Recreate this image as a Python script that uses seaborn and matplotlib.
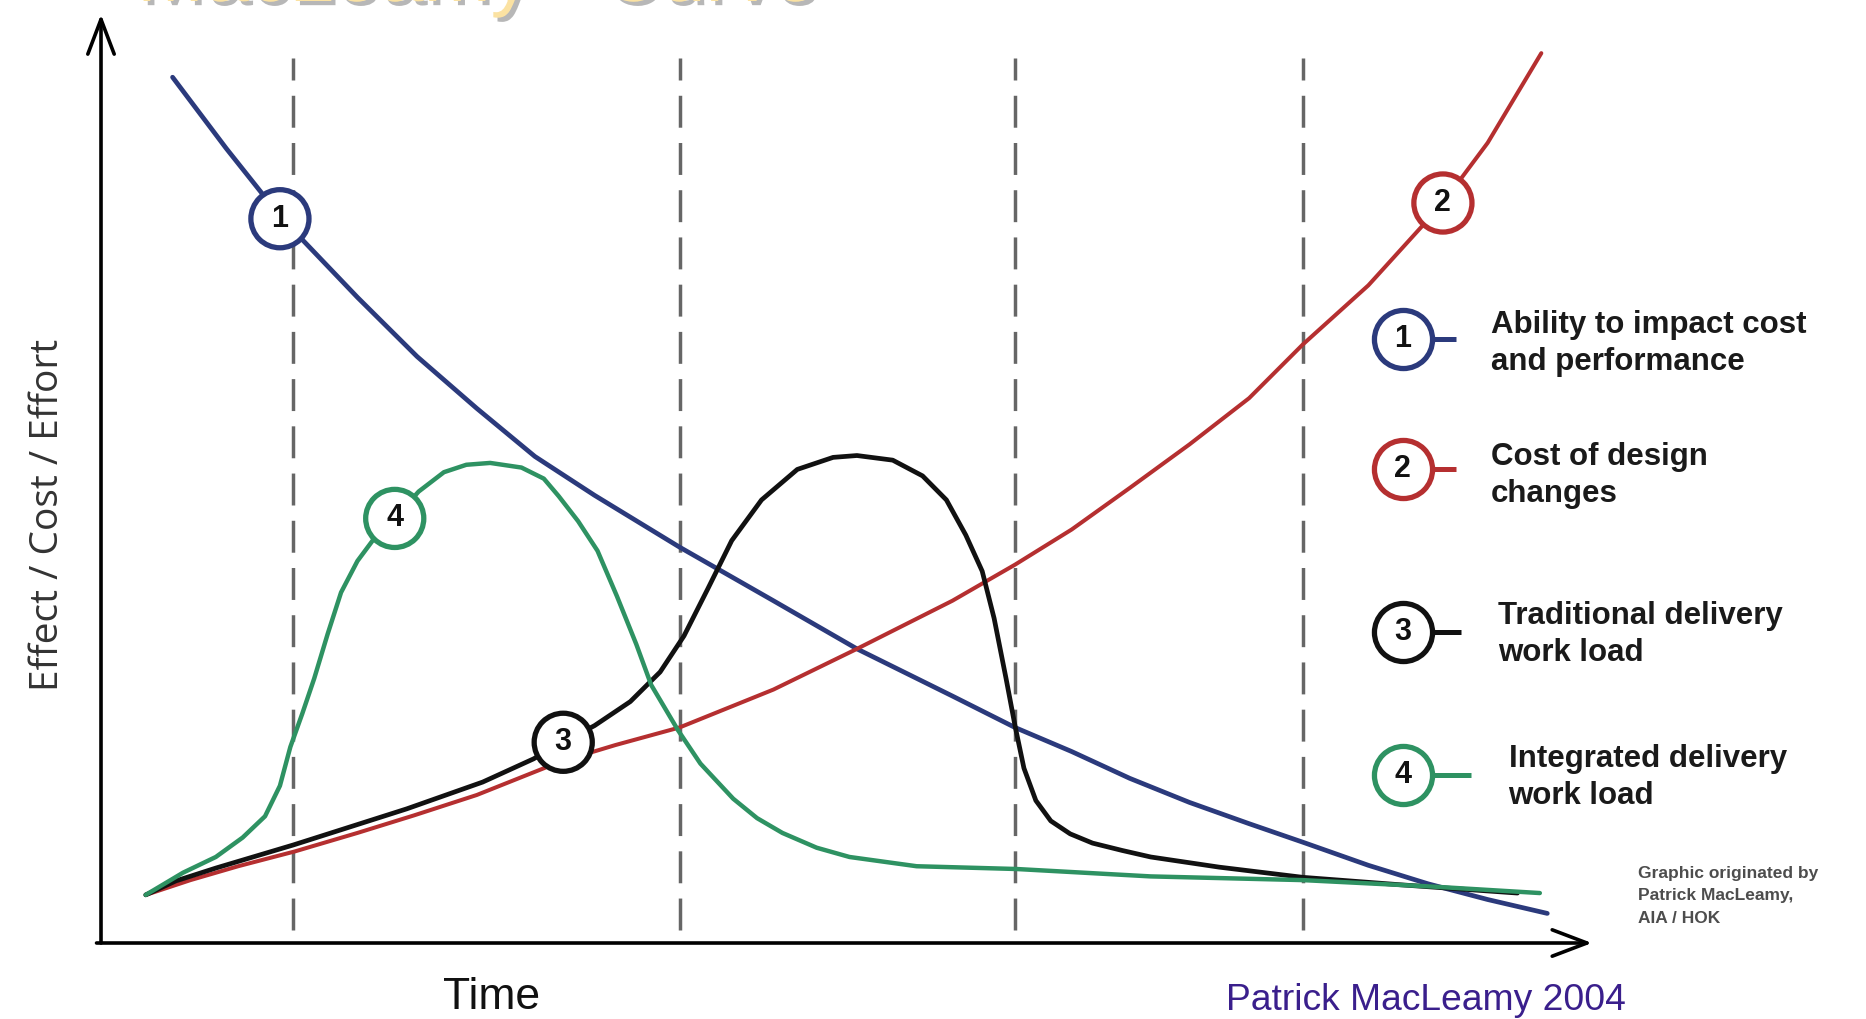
import matplotlib
matplotlib.use("Agg")
import matplotlib.pyplot as plt
import matplotlib.patheffects as pe
import seaborn as sns

sns.set_theme(style="white")
plt.rcParams["font.family"] = ["Liberation Sans", "DejaVu Sans"]

# Curves: time 0-100 (x), effect 0-100 (y)
ability_t = [4.8, 8.4, 12.1, 17.2, 21.2, 25.2, 29.1, 33.1, 38.8, 45.1, 50.7, 57.1,
             61.3, 65.1, 69.0, 73.0, 77.0, 80.6, 85.0, 89.0, 93.0, 97.0]
ability_v = [93.6, 85.9, 78.4, 69.8, 63.4, 57.8, 52.6, 48.4, 42.8, 37.0, 31.8, 26.7,
             23.3, 20.7, 17.8, 15.2, 12.9, 10.9, 8.4, 6.4, 4.7, 3.2]

cost_t = [3.0, 6.0, 9.2, 13.0, 17.2, 21.0, 25.2, 30.8, 34.5, 38.8, 45.1, 50.7, 57.1,
          61.3, 65.1, 69.0, 73.0, 77.0, 80.6, 85.0, 89.9, 93.0, 96.6]
cost_v = [5.2, 6.8, 8.3, 9.9, 11.9, 13.8, 16.0, 19.6, 21.4, 23.3, 27.4, 31.8, 37.0,
          40.9, 44.7, 49.2, 53.9, 58.9, 64.7, 71.1, 79.8, 86.5, 96.2]

trad_t = [3.0, 5.0, 7.7, 12.9, 20.5, 25.6, 29.0, 31.0, 33.1, 35.5, 37.5, 39.1, 40.7,
          42.3, 44.3, 46.7, 49.1, 50.7, 53.1, 55.1, 56.7, 58.0, 59.1, 59.9, 60.7,
          61.3, 61.9, 62.7, 63.7, 65.0, 66.5, 68.5, 70.4, 75.0, 80.6, 87.1, 95.0]
trad_v = [5.2, 6.7, 8.1, 10.6, 14.5, 17.4, 19.9, 21.7, 23.5, 26.1, 29.3, 33.2, 38.3,
          43.5, 47.9, 51.2, 52.5, 52.7, 52.2, 50.5, 47.9, 44.1, 40.2, 35.1, 28.6,
          23.5, 18.9, 15.4, 13.2, 11.8, 10.8, 10.0, 9.3, 8.2, 7.1, 6.3, 5.4]

integ_t = [3.0, 5.5, 7.7, 9.5, 11.0, 12.0, 12.7, 13.5, 14.3, 15.2, 16.1, 17.2, 18.4,
           19.7, 21.3, 23.0, 24.5, 26.1, 28.2, 29.7, 30.7, 32.0, 33.3, 34.6, 35.9,
           36.9, 38.7, 40.2, 42.4, 44.0, 45.7, 48.0, 50.2, 54.7, 61.4, 70.4, 80.6,
           89.3, 96.5]
integ_v = [5.2, 7.6, 9.3, 11.4, 13.7, 17.0, 21.2, 24.8, 28.6, 33.4, 37.9, 41.3, 43.9,
           45.9, 48.8, 50.9, 51.7, 51.9, 51.4, 50.2, 48.3, 45.6, 42.4, 37.5, 32.3,
           27.9, 23.0, 19.4, 15.6, 13.5, 11.9, 10.3, 9.3, 8.3, 8.0, 7.2, 6.8,
           6.1, 5.4]

phase_bounds = [12.9, 38.8, 61.3, 80.6]

labels = ["1", "2", "3", "4"]
marker_t = [12.0, 90.0, 31.0, 19.7]
marker_v = [78.3, 80.0, 21.7, 45.9]
legend_text = ["Ability to impact cost\nand performance",
               "Cost of design\nchanges",
               "Traditional delivery\nwork load",
               "Integrated delivery\nwork load"]

colors = ["#2b3a7c", "#b52f30", "#111111", "#2e9262"]

fig = plt.figure(figsize=(18.66, 10.19), dpi=100)
ax = fig.add_axes([0.05413, 0.07458, 0.79904, 0.90775])
ax.set_xlim(0, 100)
ax.set_ylim(0, 100)
ax.axis("off")

# phase separators
for xb in phase_bounds:
    ax.plot([xb, xb], [1.4, 95.7], color="#666666", lw=2.5,
            linestyle=(0, (9.2, 4.4)), zorder=1)

series = [(ability_t, ability_v), (cost_t, cost_v), (trad_t, trad_v), (integ_t, integ_v)]
widths = [3.4, 2.9, 3.4, 3.2]
for (t, v), c, w in zip(series, colors, widths):
    sns.lineplot(x=t, y=v, sort=False, estimator=None, color=c, lw=w, ax=ax, zorder=3)

# numbered circles on the curves
circ_size = 1750
ax.scatter(marker_t, marker_v, s=circ_size, facecolor="white", edgecolor=colors,
           linewidth=3.8, zorder=5)
for lab, t, v in zip(labels, marker_t, marker_v):
    ax.text(t, v, lab, ha="center", va="center", fontsize=22, fontweight="bold",
            color="#111111", zorder=6)

# legend on the right
leg_y = [65.3, 51.2, 33.6, 18.2]
leg_line_end = [90.9, 90.9, 91.2, 91.9]
leg_text_x = [93.2, 93.2, 93.7, 94.4]
leg_text_y = [64.8, 50.5, 33.4, 17.9]
for i in range(4):
    ax.plot([87.3, leg_line_end[i]], [leg_y[i], leg_y[i]], color=colors[i], lw=3.6,
            solid_capstyle="butt", clip_on=False, zorder=4)
    ax.scatter([87.3], [leg_y[i]], s=circ_size, facecolor="white", edgecolor=colors[i],
               linewidth=3.8, zorder=5, clip_on=False)
    ax.text(87.3, leg_y[i], labels[i], ha="center", va="center", fontsize=22,
            fontweight="bold", color="#111111", zorder=6)
    ax.text(leg_text_x[i], leg_text_y[i], legend_text[i], ha="left", va="center",
            fontsize=22.5, fontweight="bold", color="#1a1a1a", linespacing=1.3)

# axes with arrow heads
arrow = dict(arrowstyle="->,head_length=1.0,head_width=0.38", lw=2.6, color="black",
             mutation_scale=25, shrinkA=0, shrinkB=0)
ax.annotate("", xy=(100, 0), xytext=(-0.3, 0), arrowprops=arrow, annotation_clip=False)
ax.annotate("", xy=(0, 100.4), xytext=(0, 0), arrowprops=arrow, annotation_clip=False)

ax.text(26.2, -5.9, "Time", ha="center", va="center", fontsize=32, color="#111111")
ax.text(-3.55, 46.3, "Effect / Cost / Effort", rotation=90, ha="center", va="center",
        fontsize=28, color="#333333", family=["Open Sans", "DejaVu Sans"])
ax.text(75.45, -6.2, "Patrick MacLeamy 2004", ha="left", va="center", fontsize=26.8,
        color="#3a1f8c")
ax.text(103.1, 5.1, "Graphic originated by\nPatrick MacLeamy,\nAIA / HOK", ha="left",
        va="center", fontsize=12.5, fontweight="bold", color="#4d4d4d", linespacing=1.65)

# title, mostly cut off at the top edge as in the source
fig.text(137 / 1866, 1 - 1 / 1019, "MacLeamy - Curve", ha="left", va="baseline",
         fontsize=58, color="#fbe2a2",
         path_effects=[pe.SimplePatchShadow(offset=(3, -3), shadow_rgbFace="#888888", alpha=0.6),
                       pe.Normal()])

fig.savefig("out.png", dpi=100)
